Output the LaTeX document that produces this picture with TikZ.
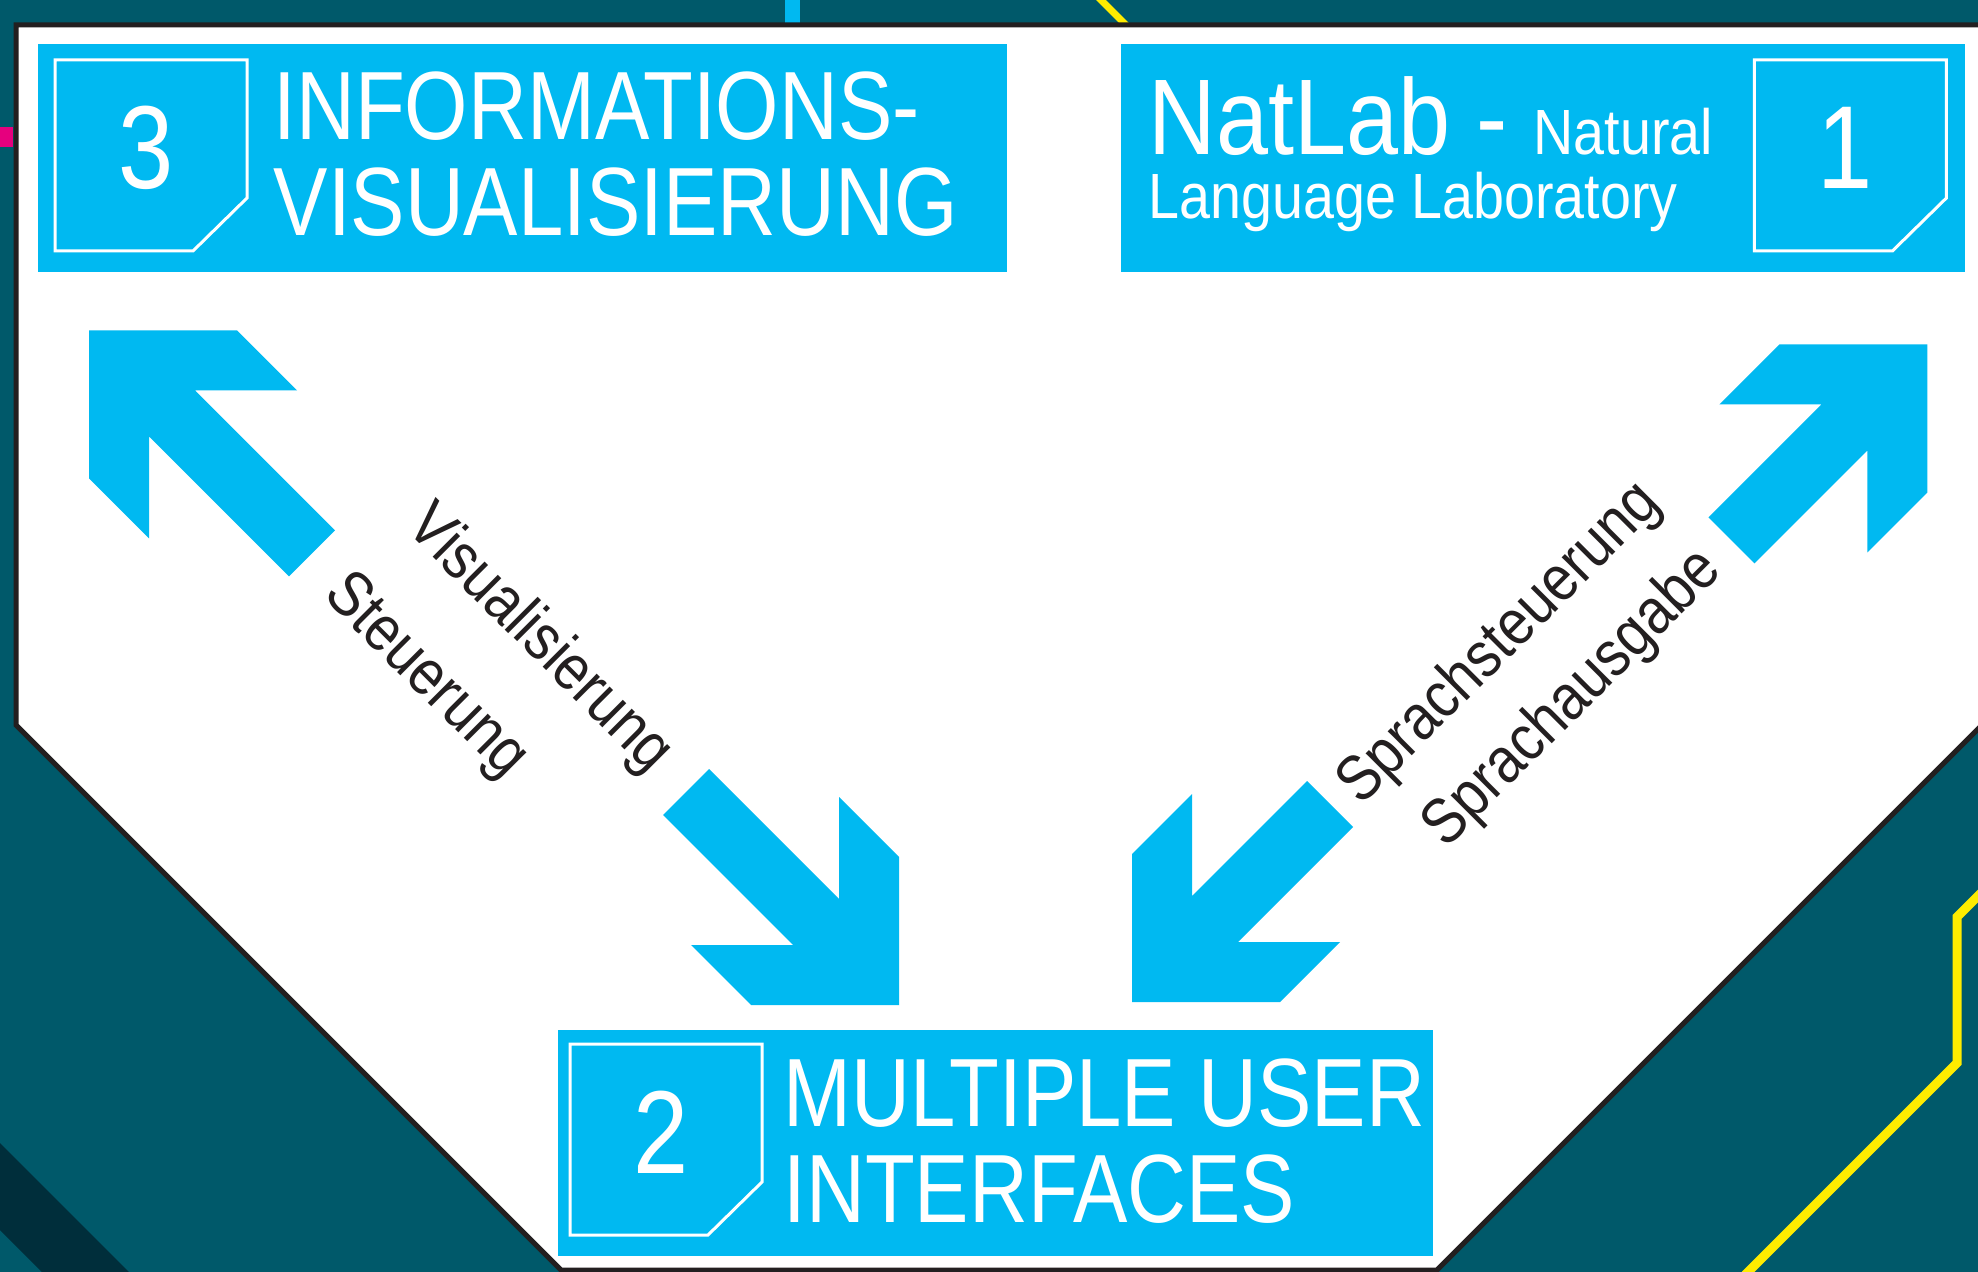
\documentclass[tikz,border=0pt]{standalone}
\usepackage{fontspec}
\usepackage{tikz}
\usetikzlibrary{calc}
\setmainfont{Liberation Sans}
\newfontfamily\titlefont[FakeStretch=0.84]{Liberation Sans}
\newfontfamily\labelfont[FakeStretch=0.87]{Liberation Sans}
\definecolor{petrol}{HTML}{00596A}
\definecolor{deeppetrol}{HTML}{002E3B}
\definecolor{skyblue}{HTML}{00B9F1}
\definecolor{signyellow}{HTML}{FFEC00}
\definecolor{inkblack}{HTML}{231F20}
\definecolor{hotpink}{HTML}{E6007E}

\tikzset{
  box/.style={fill=skyblue, inner sep=0pt, anchor=north west},
  bigcaps/.style={text=white, inner sep=0pt, anchor=base west, font=\titlefont\fontsize{27.6pt}{27.6pt}\selectfont},
  lbl/.style={text=inkblack, inner sep=0pt, font=\labelfont\fontsize{18.3pt}{21pt}\selectfont},
  digit/.style={text=white, inner sep=0pt, anchor=base, font=\titlefont\fontsize{33.6pt}{34pt}\selectfont},
  pics/badge/.style={code={
    \draw[white, line width=0.3mm] (0,0) -- (192,0) -- (192,138) -- (138,191) -- (0,191) -- cycle;
    \node[digit] (-num) at (91,129) {#1};
  }},
  pics/blockarrow/.style={code={
    \fill[skyblue] (0,0) -- (148,0) -- (208,60) -- (106,60) -- ++(#1,#1) -- ++(-46,46) -- (60,106) -- (60,208) -- (0,148) -- cycle;
  }}
}

\begin{document}
\begin{tikzpicture}[x=0.1mm, y=-0.1mm]
\useasboundingbox (0,0) rectangle (1978,1272);
\clip (0,0) rectangle (1978,1272);
% background
\fill[petrol] (0,0) rectangle (1978,1272);
\fill[deeppetrol] (0,1143) -- (129,1272) -- (42,1272) -- (0,1230) -- cycle;
\fill[hotpink] (0,127) rectangle (13,147);
\fill[skyblue] (785,0) rectangle (800,25);
\draw[signyellow, line width=0.7mm] (1093,-8) -- (1133,32);
\draw[signyellow, line width=0.9mm] (1990,884) -- (1957,917) -- (1957,1063) -- (1745,1275);
% white panel
\draw[inkblack, fill=white, line width=0.5mm] (16,25) -- (1990,25) -- (1990,717) -- (1437,1270) -- (561,1270) -- (16,725) -- cycle;

% boxes
\node[box, minimum width=96.9mm, minimum height=22.8mm] (info) at (37,43) {};
\node[box, minimum width=84.4mm, minimum height=22.8mm] (natlab) at (1120,43) {};
\node[box, minimum width=87.5mm, minimum height=22.6mm] (mui) at (557,1029) {};

\pic (b3) at ($(info.north west)+(18,17)$) {badge=3};
\pic (b1) at ($(natlab.north east)+(-211,17)$) {badge=1};
\pic (b2) at ($(mui.north west)+(13,15)$) {badge=2};

\node[bigcaps] (info1) at (273,140) {INFORMATIONS-};
\node[bigcaps] (info2) at (273,236) {VISUALISIERUNG};
\node[bigcaps] (mui1) at (783,1126) {MULTIPLE USER};
\node[bigcaps] (mui2) at (783,1222) {INTERFACES};
\node[text=white, inner sep=0pt, anchor=base west] (nat1) at (1148,155) {\labelfont\fontsize{30.6pt}{31pt}\selectfont NatLab - \fontsize{18.2pt}{19pt}\selectfont Natural};
\node[text=white, inner sep=0pt, anchor=base west] (nat2) at (1148,219) {\labelfont\fontsize{18.2pt}{19pt}\selectfont Language Laboratory};

% arrows
\pic (a3) at ($(info.south west)+(52,58)$) {blockarrow=140};
\pic[xscale=-1] (a1) at ($(natlab.south east)+(-38,72)$) {blockarrow=113};
\pic[scale=-1] (a32) at ($(mui.north west)+(342,-24)$) {blockarrow=130};
\pic[yscale=-1] (a12) at ($(mui.north west)+(575,-27)$) {blockarrow=115};

\node[lbl, rotate=-45] (vis) at (539,640) {Visualisierung};
\node[lbl, rotate=-45] (steu) at (425,677) {Steuerung};
\node[lbl, rotate=45] (sprst) at (1500,644) {Sprachsteuerung};
\node[lbl, rotate=45] (sprau) at (1573,699) {Sprachausgabe};
\end{tikzpicture}
\end{document}
